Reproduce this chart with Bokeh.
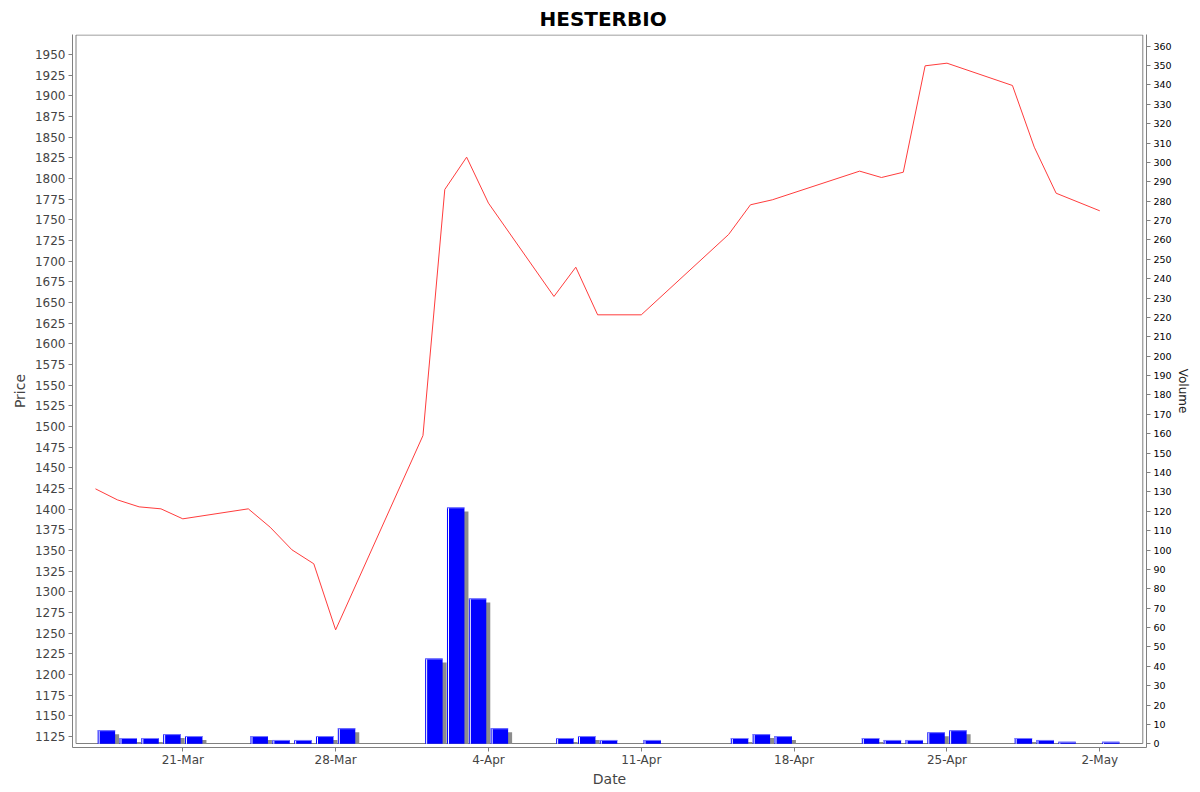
import numpy as np
from bokeh.plotting import figure
from bokeh.models import Range1d, LinearAxis, FixedTicker, DatetimeTickFormatter
from bokeh.embed import file_html
from bokeh.resources import INLINE

# ---------------- data ----------------
title_text = "HESTERBIO"
dates = ["2025-03-17", "2025-03-18", "2025-03-19", "2025-03-20", "2025-03-21",
         "2025-03-24", "2025-03-25", "2025-03-26", "2025-03-27", "2025-03-28",
         "2025-04-01", "2025-04-02", "2025-04-03", "2025-04-04",
         "2025-04-07", "2025-04-08", "2025-04-09", "2025-04-11",
         "2025-04-15", "2025-04-16", "2025-04-17",
         "2025-04-21", "2025-04-22", "2025-04-23", "2025-04-24", "2025-04-25",
         "2025-04-28", "2025-04-29", "2025-04-30", "2025-05-02"]
price = [1424.6, 1411.3, 1402.8, 1400.4, 1388.3,
         1400.4, 1378.2, 1350.8, 1333.9, 1254.0,
         1489.0, 1786.7, 1825.8, 1770.2,
         1657.3, 1692.7, 1635.1, 1635.1,
         1732.3, 1768.2, 1774.2,
         1808.9, 1801.2, 1807.6, 1936.3, 1939.5,
         1912.5, 1837.9, 1782.2, 1760.9]
volume = [7, 3, 3, 5, 4,
          4, 2, 2, 4, 8,
          44, 122, 75, 8,
          3, 4, 2, 2,
          3, 5, 4,
          3, 2, 2, 6, 7,
          3, 2, 1, 1]
x_tick_dates = ["2025-03-21", "2025-03-28", "2025-04-04", "2025-04-11",
                "2025-04-18", "2025-04-25", "2025-05-02"]
price_ticks = list(range(1125, 1951, 25))
volume_ticks = list(range(0, 361, 10))

# ---------------- geometry ----------------
DAY = 86400000.0
def to_ms(lst):
    return np.array(lst, dtype="datetime64[ms]").astype("int64").astype(float)

t = to_ms(dates)
vol = np.array(volume, dtype=float)

W, H = 1198, 790
F_LEFT, F_RIGHT, F_TOP, F_BOTTOM = 72, 1146, 34, 747
FRAME_W, FRAME_H = F_RIGHT - F_LEFT, F_BOTTOM - F_TOP
PX_PER_DAY = 21.833
ms_per_px = DAY / PX_PER_DAY
x0 = to_ms(["2025-03-21"])[0] - 5.052 * DAY
x1 = x0 + FRAME_W * ms_per_px

p_per_px = 1 / 0.82667
p_top = 1974.19
p_bot = p_top - FRAME_H * p_per_px

v_per_px = 1 / 1.9378
v_bot = -1.91
v_top = v_bot + FRAME_H * v_per_px

GRAY = "#808080"
TXT = "#444444"

p = figure(width=W, height=H, x_axis_type="datetime",
           x_range=Range1d(x0, x1), y_range=Range1d(p_bot, p_top),
           output_backend="svg", toolbar_location=None,
           min_border_left=F_LEFT, min_border_right=W - F_RIGHT,
           min_border_top=F_TOP, min_border_bottom=H - F_BOTTOM,
           background_fill_color="white", border_fill_color="white")
p.extra_y_ranges = {"vol": Range1d(v_bot, v_top)}
p.outline_line_color = None
p.xgrid.visible = False
p.ygrid.visible = False

p.title.text = title_text
p.title.align = "left"
p.title.text_font = "DejaVu Sans"
p.title.text_font_size = "20px"
p.title.text_font_style = "bold"
p.title.text_color = "black"
p.title.standoff = 8
p.title.offset = 539 - F_LEFT

# inner plot box
p.quad(left=[x0 + 3.5 * ms_per_px], right=[x1 - 3.7 * ms_per_px],
       bottom=[p_bot + 4.0 * p_per_px], top=[p_top - 0.5 * p_per_px],
       fill_color=None, line_color=GRAY, line_width=1)

# volume bars with shadow
left = t + 0.1 * DAY
right = t + 0.9 * DAY
sh_top = vol - 4 * v_per_px
m = sh_top > 0
p.quad(left=left[m] + 4 * ms_per_px, right=right[m] + 4 * ms_per_px,
       bottom=0, top=sh_top[m], fill_color="#8c8c8c", line_color=None,
       y_range_name="vol")
p.quad(left=left, right=right, bottom=0, top=vol,
       fill_color="#0000ff", line_color=None, y_range_name="vol")
p.segment(x0=left + 1.5 * ms_per_px, x1=left + 1.5 * ms_per_px,
          y0=0, y1=vol - 0.5 * v_per_px, line_color="white", line_width=1,
          y_range_name="vol")
p.segment(x0=left, x1=right, y0=vol - 0.5 * v_per_px, y1=vol - 0.5 * v_per_px,
          line_color="#7a7aff", line_width=1, y_range_name="vol")

# price line
p.line(t, price, line_color="#ff3c3c", line_width=1)

# axes styling
def style(ax, size, color):
    ax.axis_line_color = GRAY
    ax.major_tick_line_color = GRAY
    ax.major_tick_in = 0
    ax.major_tick_out = 4
    ax.minor_tick_line_color = None
    ax.major_label_text_font = "DejaVu Sans"
    ax.major_label_text_font_size = size
    ax.major_label_text_color = color
    ax.axis_label_text_font = "DejaVu Sans"
    ax.axis_label_text_font_style = "normal"

xa = p.xaxis[0]
style(xa, "12px", TXT)
xa.ticker = FixedTicker(ticks=list(to_ms(x_tick_dates)))
fmt = "%-d-%b"
xa.formatter = DatetimeTickFormatter(days=fmt, months=fmt, hours=fmt,
                                     minutes=fmt, years=fmt)
xa.axis_label = "Date"
xa.axis_label_text_font_size = "14px"
xa.axis_label_text_color = TXT
xa.major_label_standoff = 1
xa.axis_label_standoff = 1

ya = p.yaxis[0]
style(ya, "12px", TXT)
ya.ticker = FixedTicker(ticks=price_ticks)
ya.axis_label = "Price"
ya.axis_label_text_font_size = "14px"
ya.axis_label_text_color = TXT
ya.major_label_standoff = 3
ya.axis_label_standoff = 4

ra = LinearAxis(y_range_name="vol")
style(ra, "9.5px", "black")
ra.ticker = FixedTicker(ticks=volume_ticks)
ra.axis_label = "Volume"
ra.axis_label_text_font_size = "12px"
ra.axis_label_text_color = "#222222"
ra.major_label_standoff = 3
ra.axis_label_standoff = 1
p.add_layout(ra, "right")

open("out.html", "w").write(file_html(p, INLINE))
